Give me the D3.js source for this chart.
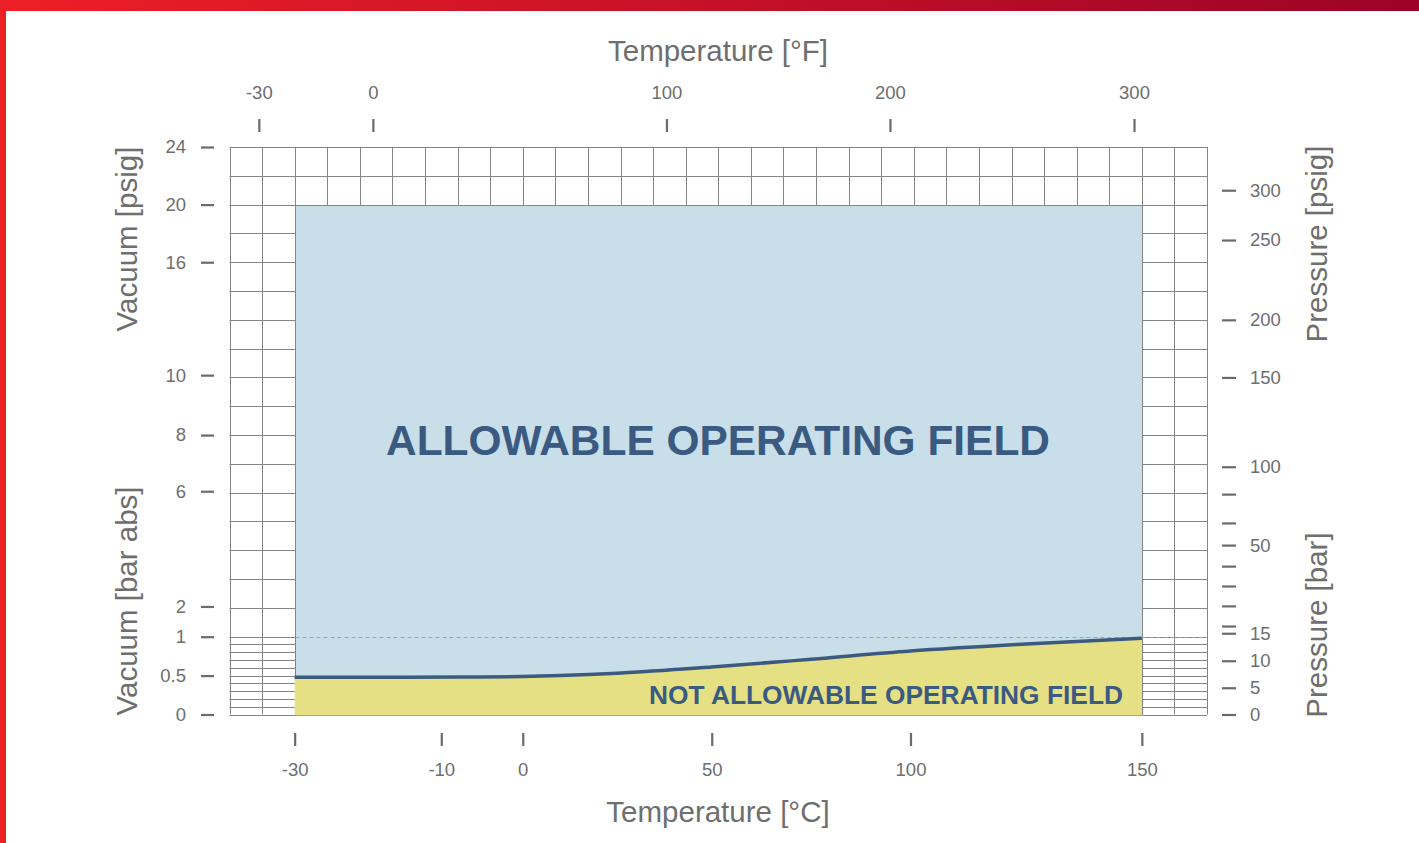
<!DOCTYPE html>
<html>
<head>
<meta charset="utf-8">
<script src="https://cdn.jsdelivr.net/npm/d3@7"></script>
<style>
  body{margin:0;background:#fff;}
  svg{display:block;font-family:"Liberation Sans",Arial,sans-serif;}
</style>
</head>
<body>
<div id="chart"></div>
<script>
// bottom axis, temperature in C, and where each tick sits on the grid (columns)
var tempC = [-30, -10, 0, 50, 100, 150];
var tempCCols = [2, 6.5, 9, 14.8, 20.9, 28];
// top axis, temperature in F
var tempF = [-30, 0, 100, 200, 300];
var tempFCols = [0.9, 4.4, 13.41, 20.27, 27.76];
// left axis (vacuum bar abs below, psig above), grid row units
var leftVals = [0, 0.5, 1, 2, 6, 8, 10, 16, 20, 24];
var leftUnits = [0, 5, 10, 11.05, 15.05, 17.0, 19.08, 23.0, 25, 27];
// right axis (pressure bar / psig), grid row units
var rightUnits = [0, 3.44, 6.91, 10.12, 10.37, 11.07, 11.76, 12.45, 13.18, 13.95, 14.95, 15.9, 19.0, 21.0, 23.77, 25.5];
var rightLabels = ["0", "5", "10", "15", "", "", "", "", "50", "", "", "100", "150", "200", "250", "300"];
// limit curve: vacuum [bar abs] against temperature [C]
var curveT = [-30, -15, -5, 0, 10, 25, 50, 75, 100, 125, 150];
var curveBar = [0.48, 0.48, 0.483, 0.488, 0.5, 0.53, 0.61, 0.71, 0.815, 0.905, 0.98];

var W = 1419, H = 843;
var svg = d3.select("#chart").append("svg").attr("width", W).attr("height", H);

var defs = svg.append("defs");
var grad = defs.append("linearGradient").attr("id", "band");
grad.append("stop").attr("offset", "0%").attr("stop-color", "#ee1f27");
grad.append("stop").attr("offset", "100%").attr("stop-color", "#9c0327");

svg.append("rect").attr("x", 0).attr("y", 0).attr("width", W).attr("height", 11).attr("fill", "url(#band)");
svg.append("rect").attr("x", 0).attr("y", 0).attr("width", 6).attr("height", H).attr("fill", "#ec1f27");

var gridX = d3.scaleLinear().domain([0, 30]).range([229.5, 1207]);
var gridY = d3.scaleLinear().domain([0, 10, 27]).range([714.5, 636.7, 147]);

var xC = d3.scaleLinear().domain(tempC).range(tempCCols.map(gridX));
var xF = d3.scaleLinear().domain(tempF).range(tempFCols.map(gridX));
var yLeft = d3.scaleLinear().domain(leftVals).range(leftUnits.map(gridY));

var gridCol = "#858585";
var g = svg.append("g");

// grid
var rows = d3.range(0, 28);
g.selectAll(".hrow").data(rows).enter().append("line")
  .attr("x1", gridX(0)).attr("x2", gridX(30))
  .attr("y1", function(d){return Math.round(gridY(d))+0.5;})
  .attr("y2", function(d){return Math.round(gridY(d))+0.5;})
  .attr("stroke", gridCol).attr("stroke-width", 1);
g.selectAll(".vcol").data(d3.range(0, 31)).enter().append("line")
  .attr("y1", gridY(27)).attr("y2", gridY(0))
  .attr("x1", function(d){return Math.round(gridX(d))+0.5;})
  .attr("x2", function(d){return Math.round(gridX(d))+0.5;})
  .attr("stroke", gridCol).attr("stroke-width", 1);

// allowable field
var bx0 = Math.round(gridX(2))+0.5, bx1 = Math.round(gridX(28))+0.5;
var by0 = Math.round(gridY(25))+0.5, by1 = Math.round(gridY(0))+0.5;
g.append("rect").attr("x", bx0).attr("y", by0).attr("width", bx1-bx0).attr("height", by1-by0)
  .attr("fill", "#c8dee8").attr("stroke", gridCol).attr("stroke-width", 1);

var pts = curveT.map(function(t, i){return [xC(t), yLeft(curveBar[i])];});
var area = d3.area().x(function(d){return d[0];}).y0(by1-0.5).y1(function(d){return d[1];}).curve(d3.curveMonotoneX);
g.append("path").datum(pts).attr("d", area).attr("fill", "#e6e084");
g.append("line").attr("x1", bx0).attr("x2", bx1).attr("y1", by1).attr("y2", by1).attr("stroke", "#b3ad6a");

// 1 bar dashed
var y1bar = Math.round(yLeft(1))+0.5;
g.append("line").attr("x1", bx0).attr("x2", gridX(30)).attr("y1", y1bar).attr("y2", y1bar)
  .attr("stroke", "#9aa4ab").attr("stroke-width", 1).attr("stroke-dasharray", "4,3");

var line = d3.line().curve(d3.curveMonotoneX);
g.append("path").datum(pts).attr("d", line).attr("fill", "none")
  .attr("stroke", "#3a5a80").attr("stroke-width", 3.5);

// field labels
svg.append("text").attr("x", 386).attr("y", 455).attr("textLength", 664).attr("lengthAdjust", "spacingAndGlyphs")
  .attr("font-size", 42).attr("font-weight", "bold").attr("fill", "#3a5a82").text("ALLOWABLE OPERATING FIELD");
svg.append("text").attr("x", 649).attr("y", 704).attr("textLength", 474).attr("lengthAdjust", "spacingAndGlyphs")
  .attr("font-size", 25).attr("font-weight", "bold").attr("fill", "#3a5a82").text("NOT ALLOWABLE OPERATING FIELD");

// axes
var tickCol = "#6b6b6b";
function styleAxis(sel){
  sel.select(".domain").remove();
  sel.selectAll(".tick line").attr("stroke", tickCol).attr("stroke-width", 2.2);
  sel.selectAll(".tick text").attr("fill", "#6e6e6e").attr("font-size", 18.5).attr("font-family", "Liberation Sans, Arial, sans-serif");
}

var axB = svg.append("g").attr("transform", "translate(0,733)")
  .call(d3.axisBottom(xC).tickValues(tempC).tickSize(13).tickPadding(17).tickFormat(function(d){return String(d);}));
styleAxis(axB);
var axT = svg.append("g").attr("transform", "translate(0,132)")
  .call(d3.axisTop(xF).tickValues(tempF).tickSize(13).tickPadding(20).tickFormat(function(d){return String(d);}));
styleAxis(axT);
var axL = svg.append("g").attr("transform", "translate(214,0)")
  .call(d3.axisLeft(yLeft).tickValues(leftVals).tickSize(13).tickPadding(15).tickFormat(function(d){return String(d);}));
styleAxis(axL);
var axR = svg.append("g").attr("transform", "translate(1222,0)")
  .call(d3.axisRight(gridY).tickValues(rightUnits).tickSize(14).tickPadding(14).tickFormat(function(d, i){return rightLabels[i];}));
styleAxis(axR);
axR.selectAll(".tick line").attr("x1", 0);

// axis titles
var titleCol = "#6e6e6e";
svg.append("text").attr("x", 718).attr("y", 61).attr("text-anchor", "middle").attr("font-size", 29.5).attr("fill", titleCol).text("Temperature [°F]");
svg.append("text").attr("x", 718).attr("y", 822).attr("text-anchor", "middle").attr("font-size", 29.5).attr("fill", titleCol).text("Temperature [°C]");
function vTitle(x, y, t){
  svg.append("text").attr("transform", "translate(" + x + "," + y + ") rotate(-90)")
    .attr("text-anchor", "middle").attr("font-size", 29.5).attr("fill", titleCol).text(t);
}
vTitle(137, 239, "Vacuum [psig]");
vTitle(137, 601, "Vacuum [bar abs]");
vTitle(1327, 244, "Pressure [psig]");
vTitle(1327, 625, "Pressure [bar]");
</script>
</body>
</html>
